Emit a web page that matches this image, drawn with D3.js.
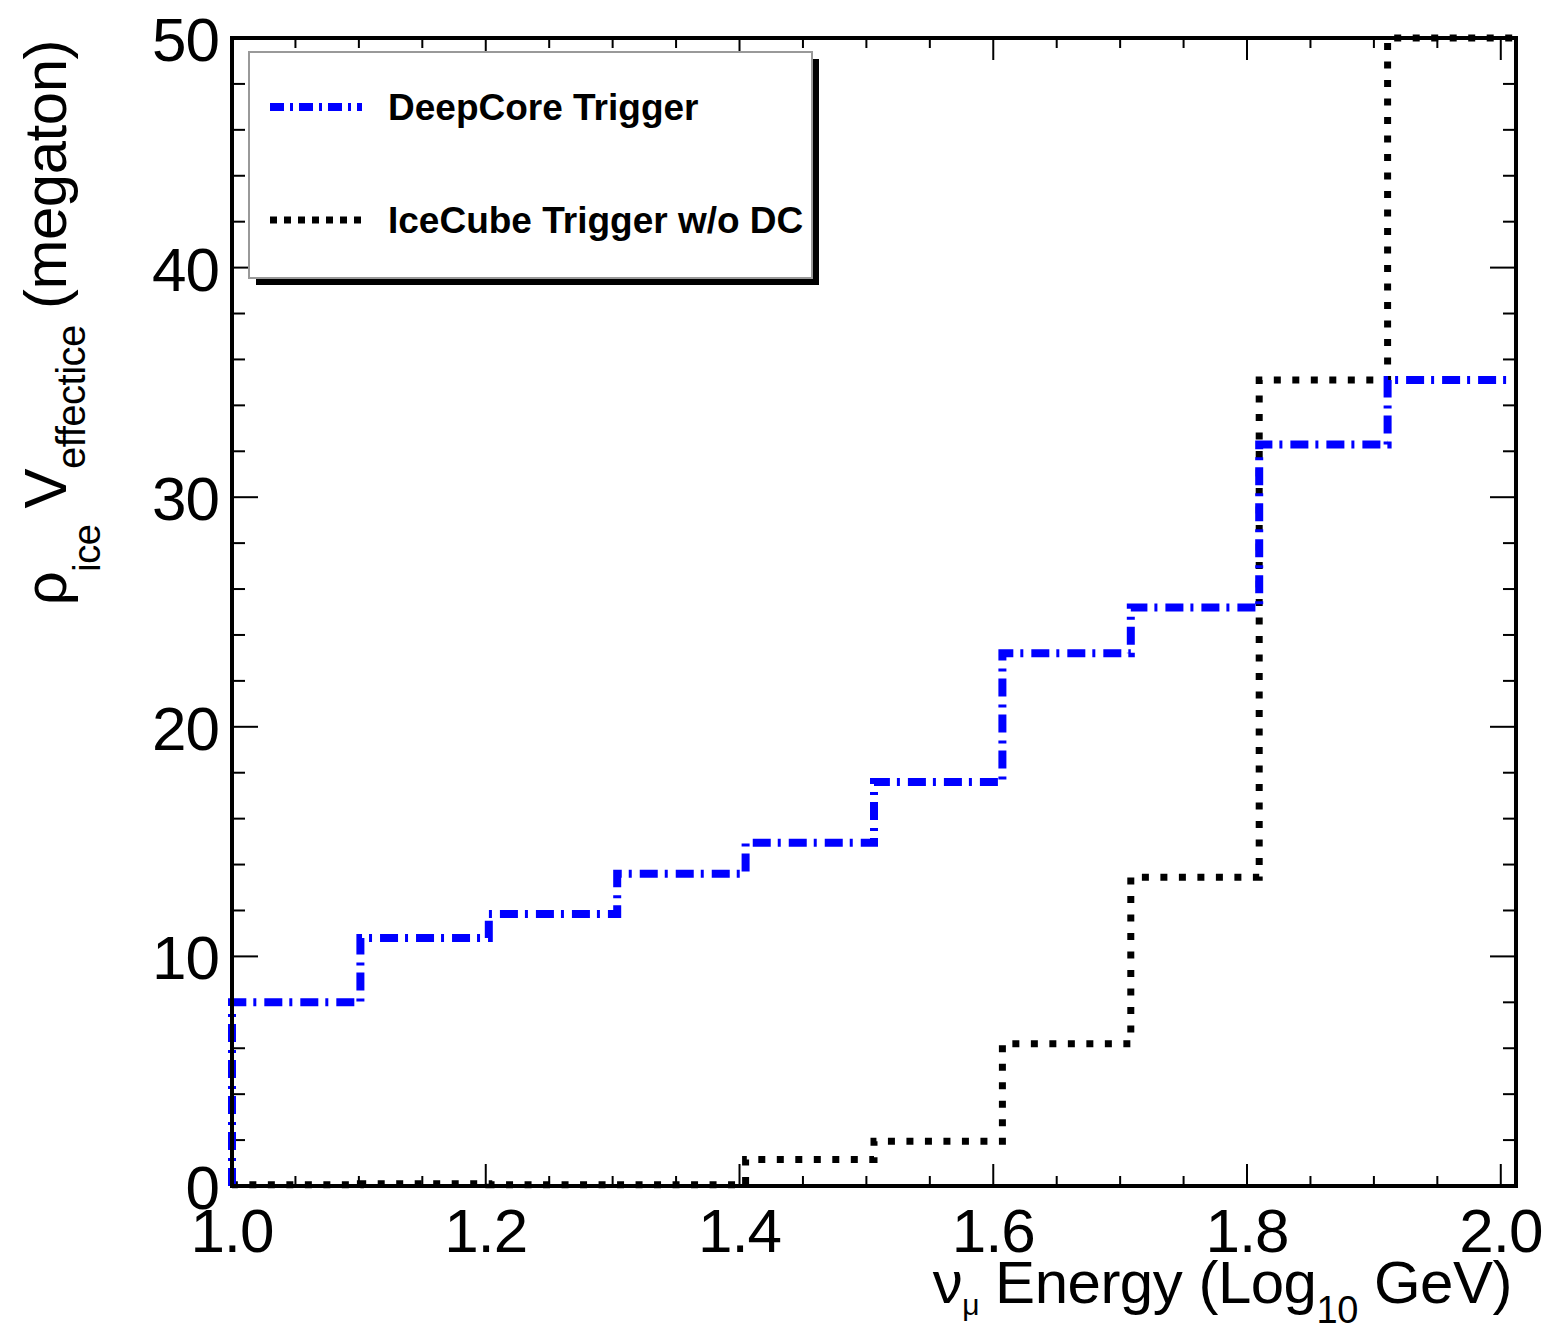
<!DOCTYPE html>
<html>
<head>
<meta charset="utf-8">
<script src="https://cdn.jsdelivr.net/npm/d3@7"></script>
<style>
  body { margin: 0; background: #fff; }
  svg text { font-family: "Liberation Sans", Arial, Helvetica, sans-serif; }
</style>
</head>
<body>
<svg id="chart" width="1548" height="1326"></svg>
<script>
// histogram: 10 bins from 1.0 to 2.012 (log10 GeV)
const binEdges = [1.0, 1.1012, 1.2024, 1.3036, 1.4048, 1.506, 1.6072, 1.7084, 1.8096, 1.9108, 2.012];
const deepCoreValues = [8.0, 10.8, 11.85, 13.6, 14.95, 17.6, 23.2, 25.2, 32.3, 35.1];
const iceCubeValues = [0.05, 0.1, 0.05, 0.05, 1.15, 1.95, 6.2, 13.45, 35.1, 50.0];
const xTickValues = [1.0, 1.2, 1.4, 1.6, 1.8, 2.0];
const xTickLabels = ['1.0', '1.2', '1.4', '1.6', '1.8', '2.0'];
const yTickValues = [0, 10, 20, 30, 40, 50];
const seriesNames = ['DeepCore Trigger', 'IceCube Trigger w/o DC'];

const frame = { left: 232, right: 1516, top: 38, bottom: 1186 };

const svg = d3.select('#chart');

const x = d3.scaleLinear().domain([1.0, 2.012]).range([frame.left, frame.right]);
const y = d3.scaleLinear().domain([0, 50]).range([frame.bottom, frame.top]);

// ticks (inside, on all four sides, like ROOT)
let xMinor = d3.range(1.0, 2.0125, 0.05).map(v => +v.toFixed(2)).filter(v => !xTickValues.includes(v));
let yMinor = d3.range(0, 51, 2).filter(v => !yTickValues.includes(v));

const ticks = svg.append('g').attr('stroke', '#000').attr('stroke-width', 2);
function xTick(v, len) {
    ticks.append('line').attr('x1', x(v)).attr('x2', x(v))
        .attr('y1', frame.bottom).attr('y2', frame.bottom - len);
    ticks.append('line').attr('x1', x(v)).attr('x2', x(v))
        .attr('y1', frame.top).attr('y2', frame.top + len);
}
function yTick(v, len) {
    ticks.append('line').attr('y1', y(v)).attr('y2', y(v))
        .attr('x1', frame.left).attr('x2', frame.left + len);
    ticks.append('line').attr('y1', y(v)).attr('y2', y(v))
        .attr('x1', frame.right).attr('x2', frame.right - len);
}
xTickValues.forEach(v => xTick(v, 22));
xMinor.forEach(v => xTick(v, 10));
yTickValues.forEach(v => yTick(v, 26));
yMinor.forEach(v => yTick(v, 13));

// step lines
function stepPoints(values) {
    let pts = [[binEdges[0], 0]];
    values.forEach(function(v, i) {
        pts.push([binEdges[i], v]);
        pts.push([binEdges[i + 1], v]);
    });
    return pts;
}
const line = d3.line().x(d => x(d[0])).y(d => y(d[1]));

svg.append('path')
    .datum(stepPoints(iceCubeValues))
    .attr('fill', 'none')
    .attr('stroke', '#000')
    .attr('stroke-width', 7)
    .attr('stroke-dasharray', '7 11.5')
    .attr('d', line);

svg.append('path')
    .datum(stepPoints(deepCoreValues))
    .attr('fill', 'none')
    .attr('stroke', '#0000ff')
    .attr('stroke-width', 8)
    .attr('stroke-dasharray', '18 7 3 8')
    .attr('d', line);

// frame
svg.append('rect')
    .attr('x', frame.left).attr('y', frame.top)
    .attr('width', frame.right - frame.left).attr('height', frame.bottom - frame.top)
    .attr('fill', 'none').attr('stroke', '#000').attr('stroke-width', 4);

// tick labels
svg.append('g').selectAll('text').data(yTickValues).enter().append('text')
    .attr('x', 219).attr('y', d => y(d) + 23)
    .attr('text-anchor', 'end')
    .attr('font-size', 62)
    .attr('letter-spacing', -1)
    .text(d => d);

svg.append('g').selectAll('text').data(xTickValues).enter().append('text')
    .attr('x', d => x(d)).attr('y', 1252)
    .attr('text-anchor', 'middle')
    .attr('font-size', 62)
    .attr('letter-spacing', -1)
    .text((d, i) => xTickLabels[i]);

// axis titles
const xt = svg.append('text')
    .attr('x', 1512).attr('y', 1303)
    .attr('text-anchor', 'end')
    .attr('font-size', 60)
    .attr('letter-spacing', -0.5);
xt.append('tspan').text('ν');
xt.append('tspan').attr('font-size', 30).attr('dy', 12).text('μ');
xt.append('tspan').attr('dy', -12).text(' Energy (Log');
xt.append('tspan').attr('font-size', 38).attr('dy', 20).text('10');
xt.append('tspan').attr('dy', -20).text(' GeV)');

const yt = svg.append('text')
    .attr('transform', 'translate(66,40) rotate(-90)')
    .attr('text-anchor', 'end')
    .attr('font-size', 60)
    .attr('letter-spacing', -0.5);
yt.append('tspan').text('ρ');
yt.append('tspan').attr('font-size', 38).attr('dy', 34).text('ice');
yt.append('tspan').attr('dy', -34).text(' V');
yt.append('tspan').attr('font-size', 40).attr('dy', 19).text('effectice');
yt.append('tspan').attr('dy', -19).text(' (megaton)');

// legend
const legend = svg.append('g');
legend.append('rect')
    .attr('x', 256).attr('y', 59).attr('width', 563).attr('height', 226)
    .attr('fill', '#000');
legend.append('rect')
    .attr('x', 249).attr('y', 52).attr('width', 563).attr('height', 226)
    .attr('fill', '#fff').attr('stroke', '#999').attr('stroke-width', 2);

const legendItems = [
    { name: seriesNames[0], color: '#0000ff', width: 8, dash: '14 6 3 6', yPos: 107 },
    { name: seriesNames[1], color: '#000', width: 7, dash: '7 7', yPos: 220 }
];
legendItems.forEach(function(d) {
    legend.append('line')
        .attr('x1', 270).attr('x2', 362).attr('y1', d.yPos).attr('y2', d.yPos)
        .attr('stroke', d.color).attr('stroke-width', d.width)
        .attr('stroke-dasharray', d.dash);
    legend.append('text')
        .attr('x', 388).attr('y', d.yPos + 13)
        .attr('font-size', 37).attr('font-weight', 'bold')
        .text(d.name);
});
</script>
</body>
</html>
